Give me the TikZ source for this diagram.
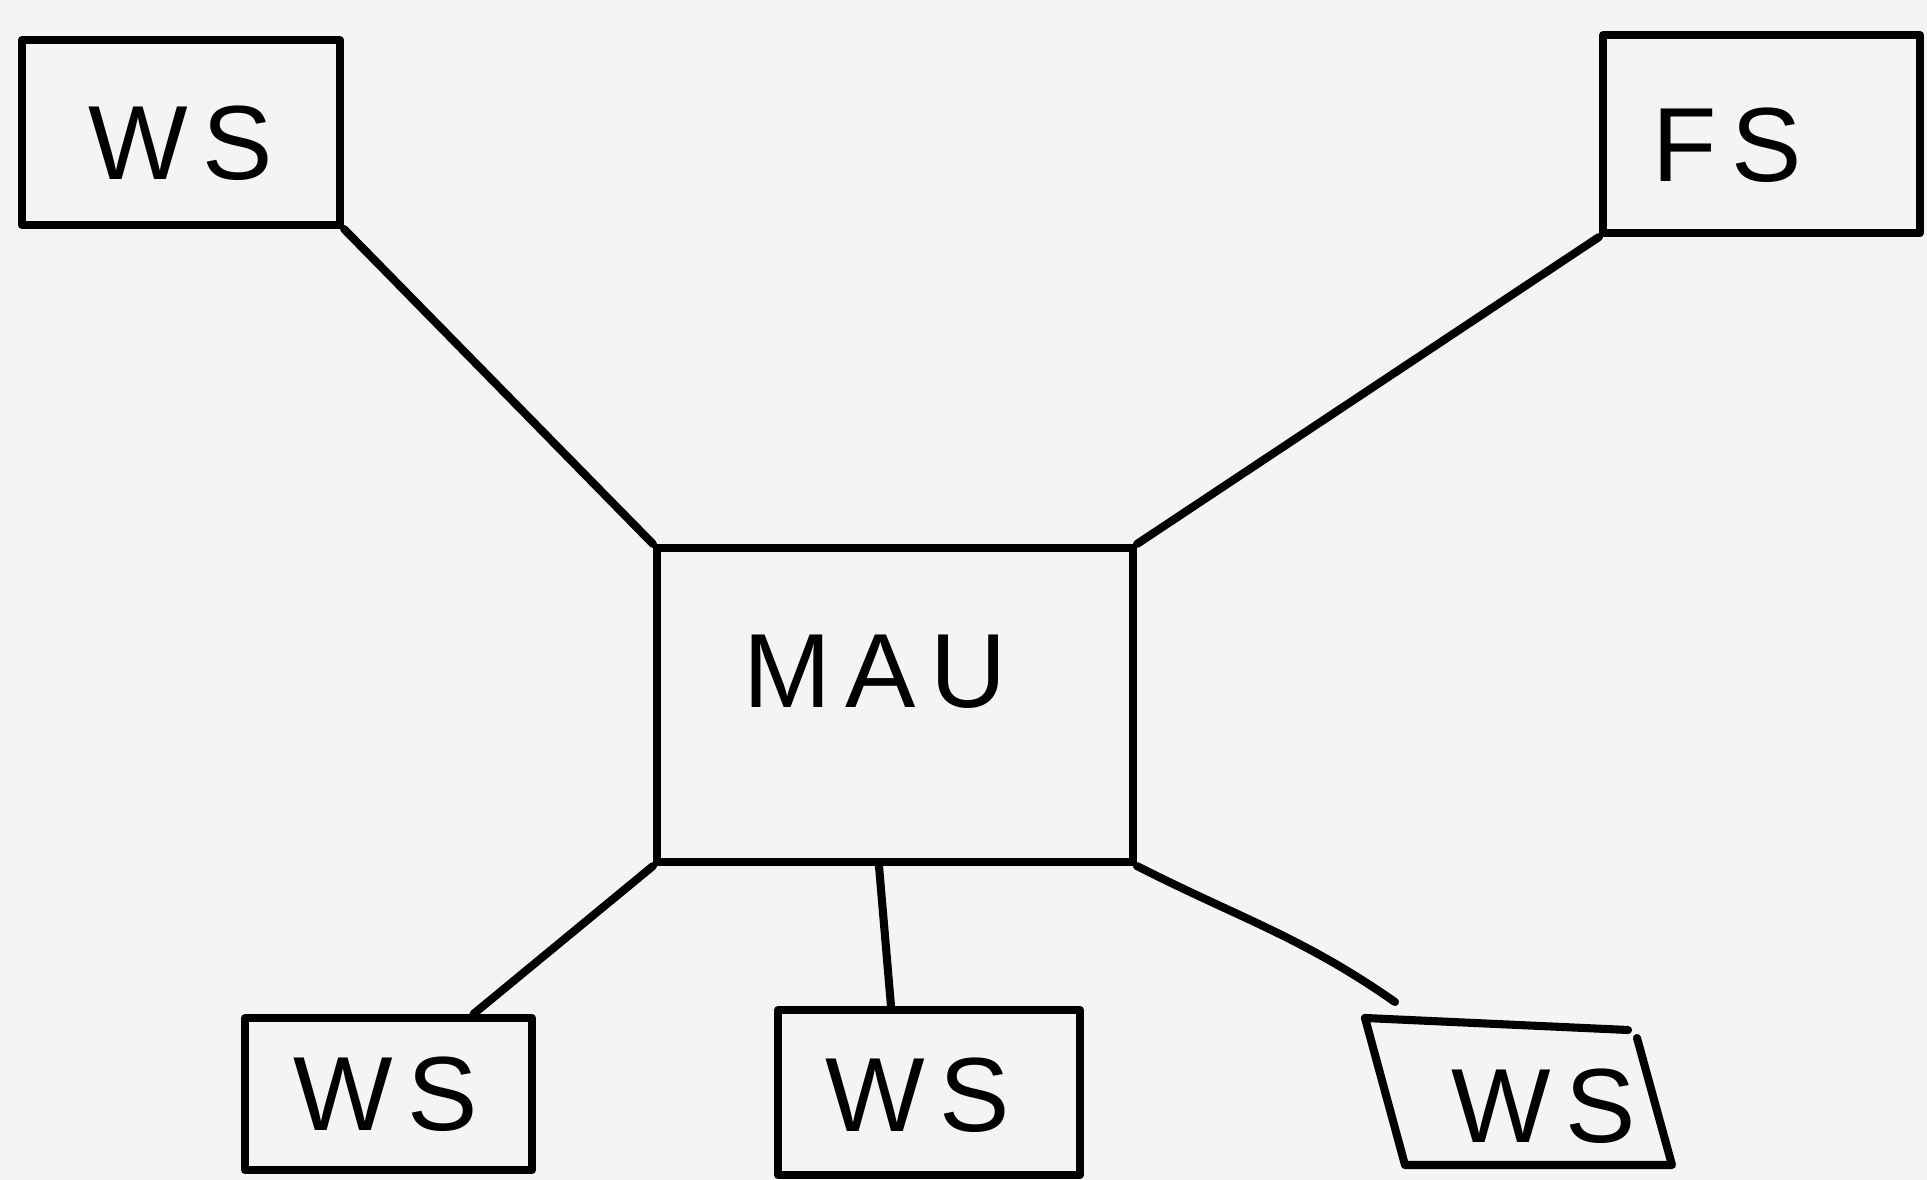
\documentclass[tikz,border=0pt]{standalone}
\usepackage{fontspec}
\setmainfont{Liberation Sans}
\usetikzlibrary{calc}
\definecolor{paper}{HTML}{F4F4F4}

\begin{document}
\begin{tikzpicture}[line width=2.3pt, line join=round, line cap=round,
    box/.style={draw, rectangle, inner sep=0pt},
    txt/.style={font=\fontsize{30}{36}\selectfont\addfontfeature{LetterSpace=14}}]
    % paper
    \fill[paper] (0,0) rectangle (19.27,11.8);
    \useasboundingbox (0,0) rectangle (19.27,11.8);

    % hub
    \node[box, minimum width=4.76cm, minimum height=3.14cm,
          label={[txt, xshift=-0.2cm, yshift=0.33cm]center:MAU}] (mau) at (8.95,4.75) {};

    % top row
    \node[box, minimum width=3.18cm, minimum height=1.85cm,
          label={[txt, xshift=0cm, yshift=-0.11cm]center:WS}] (ws1) at (1.81,10.475) {};
    \node[box, minimum width=3.17cm, minimum height=1.98cm,
          label={[txt, xshift=-0.34cm, yshift=-0.11cm]center:FS}] (fs) at (17.615,10.46) {};

    % bottom row
    \node[box, minimum width=2.87cm, minimum height=1.52cm,
          label={[txt, xshift=-0.03cm]center:WS}] (ws2) at (3.885,0.86) {};
    \node[box, minimum width=3.02cm, minimum height=1.65cm,
          label={[txt, xshift=-0.11cm, yshift=-0.03cm]center:WS}] (ws3) at (9.29,0.875) {};

    % the crooked one
    \node[txt] (ws4) at (15.44,0.74) {WS};
    \coordinate (w4a) at (13.65,1.62);
    \coordinate (w4b) at (16.28,1.50);
    \coordinate (w4c) at (16.72,0.15);
    \coordinate (w4d) at (14.05,0.15);
    \draw (w4a) -- (w4b);
    \draw (16.37,1.42) -- (w4c) -- (w4d) -- (w4a);
    \coordinate (w4top) at (13.95,1.78);

    % cables
    \draw (ws1.south east) -- (mau.north west);
    \draw (fs.south west) -- (mau.north east);
    \draw (mau.south west) -- ($(ws2.north)+(0.85,0)$);
    \draw ($(mau.south)+(-0.16,0)$) -- ($(ws3.north)+(-0.38,0)$);
    \draw (mau.south east) to[out=-27, in=145] (w4top);
\end{tikzpicture}
\end{document}
